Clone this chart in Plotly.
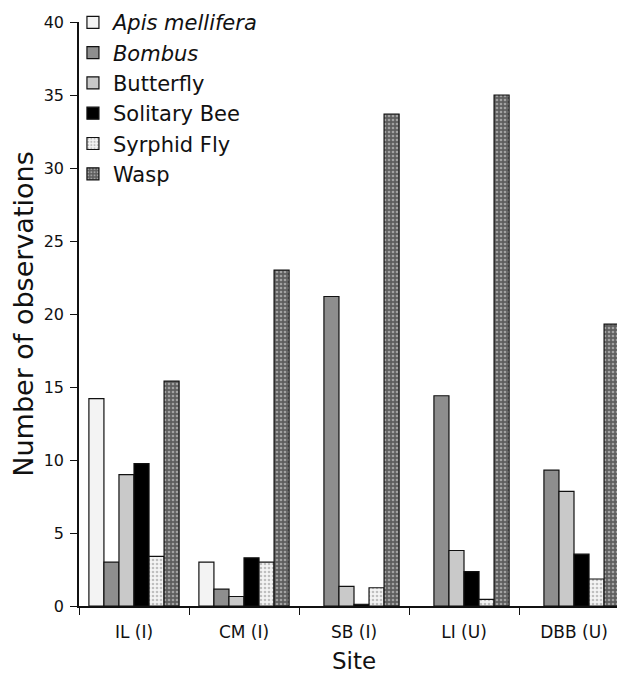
import plotly.graph_objects as go

sites = ["IL (I)", "CM (I)", "SB (I)", "LI (U)", "DBB (U)"]
apis = [14.2, 3.0, 0, 0, 0]
bombus = [3.0, 1.15, 21.2, 14.4, 9.3]
butterfly = [9.0, 0.65, 1.35, 3.8, 7.85]
solitary = [9.75, 3.3, 0.12, 2.35, 3.55]
syrphid = [3.4, 3.0, 1.25, 0.45, 1.85]
wasp = [15.4, 23.0, 33.7, 35.0, 19.3]

series = [
    ("<i>Apis mellifera</i>", apis, dict(color="#f3f3f3")),
    ("<i>Bombus</i>", bombus, dict(color="#8e8e8e")),
    ("Butterfly", butterfly, dict(color="#c9c9c9")),
    ("Solitary Bee", solitary, dict(color="#000000")),
    ("Syrphid Fly", syrphid, dict(color="#f4f4f4",
                                  pattern=dict(shape=".", fgcolor="#8a8a8a", bgcolor="#f4f4f4",
                                               size=4, solidity=0.35))),
    ("Wasp", wasp, dict(color="#666666",
                        pattern=dict(shape=".", fgcolor="#e6e6e6", bgcolor="#5e5e5e",
                                     size=4, solidity=0.35))),
]

fig = go.Figure()
for name, vals, mk in series:
    mk = dict(mk)
    mk["line"] = dict(color="#111111", width=1.2)
    yv = [v if v > 0 else None for v in vals]
    fig.add_trace(go.Bar(name=name, x=sites, y=yv, marker=mk))

fig.update_layout(
    width=625, height=680,
    margin=dict(l=71, r=4, t=14, b=82, autoexpand=False),
    paper_bgcolor="white", plot_bgcolor="white",
    barmode="group", bargap=0.18, bargroupgap=0,
    font=dict(family="DejaVu Sans", color="#111111"),
    showlegend=True,
    legend=dict(x=-0.011, y=1.034, xanchor="left", yanchor="top",
                font=dict(size=21, family="DejaVu Sans"),
                bgcolor="rgba(0,0,0,0)", tracegroupgap=0, itemwidth=30),
)
fig.update_yaxes(range=[0, 40], dtick=5, showline=True, linecolor="#111111", linewidth=1.5,
                 ticks="outside", ticklen=7, tickcolor="#111111", showgrid=False, zeroline=False,
                 tickfont=dict(size=16), ticklabelstandoff=3,
                 title=dict(text="Number of observations", font=dict(size=27), standoff=10))
fig.update_xaxes(showline=True, linecolor="#111111", linewidth=1.5, ticks="outside",
                 tickson="boundaries", ticklen=7, tickcolor="#111111", showgrid=False,
                 tickfont=dict(size=17), ticklabelstandoff=10,
                 title=dict(text="Site", font=dict(size=23), standoff=12))

fig.write_html("out.html")
